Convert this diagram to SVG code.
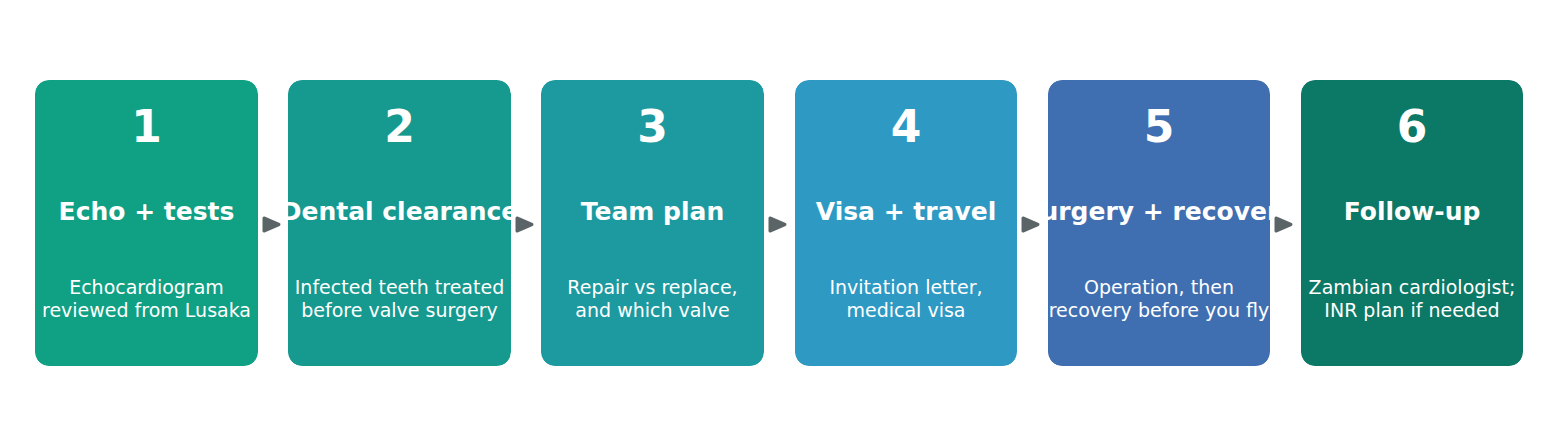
<svg xmlns="http://www.w3.org/2000/svg" width="1559" height="425" viewBox="0 0 1559 425">
<style>
.n{font-family:"DejaVu Sans",sans-serif;font-weight:bold;font-size:44px;fill:#fff;text-anchor:middle}
.t{font-family:"DejaVu Sans",sans-serif;font-weight:bold;font-size:25px;fill:#fff;text-anchor:middle}
.d{font-family:"DejaVu Sans",sans-serif;font-size:19px;fill:#fff;text-anchor:middle}
.a{fill:#5b6467;stroke:#5b6467;stroke-width:3;stroke-linejoin:round;stroke-linecap:round}
</style>
<defs>
<clipPath id="c1"><rect x="35" y="80" width="223" height="286" rx="14"/></clipPath>
<clipPath id="c2"><rect x="288" y="80" width="223" height="286" rx="14"/></clipPath>
<clipPath id="c3"><rect x="541" y="80" width="223" height="286" rx="14"/></clipPath>
<clipPath id="c4"><rect x="795" y="80" width="222" height="286" rx="14"/></clipPath>
<clipPath id="c5"><rect x="1048" y="80" width="222" height="286" rx="14"/></clipPath>
<clipPath id="c6"><rect x="1301" y="80" width="222" height="286" rx="14"/></clipPath>
</defs>
<g id="node1" clip-path="url(#c1)"><rect x="35" y="80" width="223" height="286" rx="14" fill="#10a084"/><text class="n" x="146.5" y="142">1</text><text class="t" x="146.5" y="220">Echo + tests</text><text class="d" x="146.5" y="294">Echocardiogram</text><text class="d" x="146.5" y="317">reviewed from Lusaka</text></g>
<g id="node2" clip-path="url(#c2)"><rect x="288" y="80" width="223" height="286" rx="14" fill="#16998e"/><text class="n" x="399.5" y="142">2</text><text class="t" x="399.5" y="220">Dental clearance</text><text class="d" x="399.5" y="294">Infected teeth treated</text><text class="d" x="399.5" y="317">before valve surgery</text></g>
<g id="node3" clip-path="url(#c3)"><rect x="541" y="80" width="223" height="286" rx="14" fill="#1c9aa0"/><text class="n" x="652.5" y="142">3</text><text class="t" x="652.5" y="220">Team plan</text><text class="d" x="652.5" y="294">Repair vs replace,</text><text class="d" x="652.5" y="317">and which valve</text></g>
<g id="node4" clip-path="url(#c4)"><rect x="795" y="80" width="222" height="286" rx="14" fill="#2e9ac4"/><text class="n" x="906" y="142">4</text><text class="t" x="906" y="220">Visa + travel</text><text class="d" x="906" y="294">Invitation letter,</text><text class="d" x="906" y="317">medical visa</text></g>
<g id="node5" clip-path="url(#c5)"><rect x="1048" y="80" width="222" height="286" rx="14" fill="#3f6fb0"/><text class="n" x="1159" y="142">5</text><text class="t" x="1159" y="220">Surgery + recovery</text><text class="d" x="1159" y="294">Operation, then</text><text class="d" x="1159" y="317">recovery before you fly</text></g>
<g id="node6" clip-path="url(#c6)"><rect x="1301" y="80" width="222" height="286" rx="14" fill="#0c7866"/><text class="n" x="1412" y="142">6</text><text class="t" x="1412" y="220">Follow-up</text><text class="d" x="1412" y="294">Zambian cardiologist;</text><text class="d" x="1412" y="317">INR plan if needed</text></g>
<g id="connectors">
<path class="a" d="M264,218 L279,224.5 L264,231 Z"/>
<path class="a" d="M517,218 L532,224.5 L517,231 Z"/>
<path class="a" d="M770,218 L785,224.5 L770,231 Z"/>
<path class="a" d="M1023,218 L1038,224.5 L1023,231 Z"/>
<path class="a" d="M1276,218 L1291,224.5 L1276,231 Z"/>
</g>
</svg>
